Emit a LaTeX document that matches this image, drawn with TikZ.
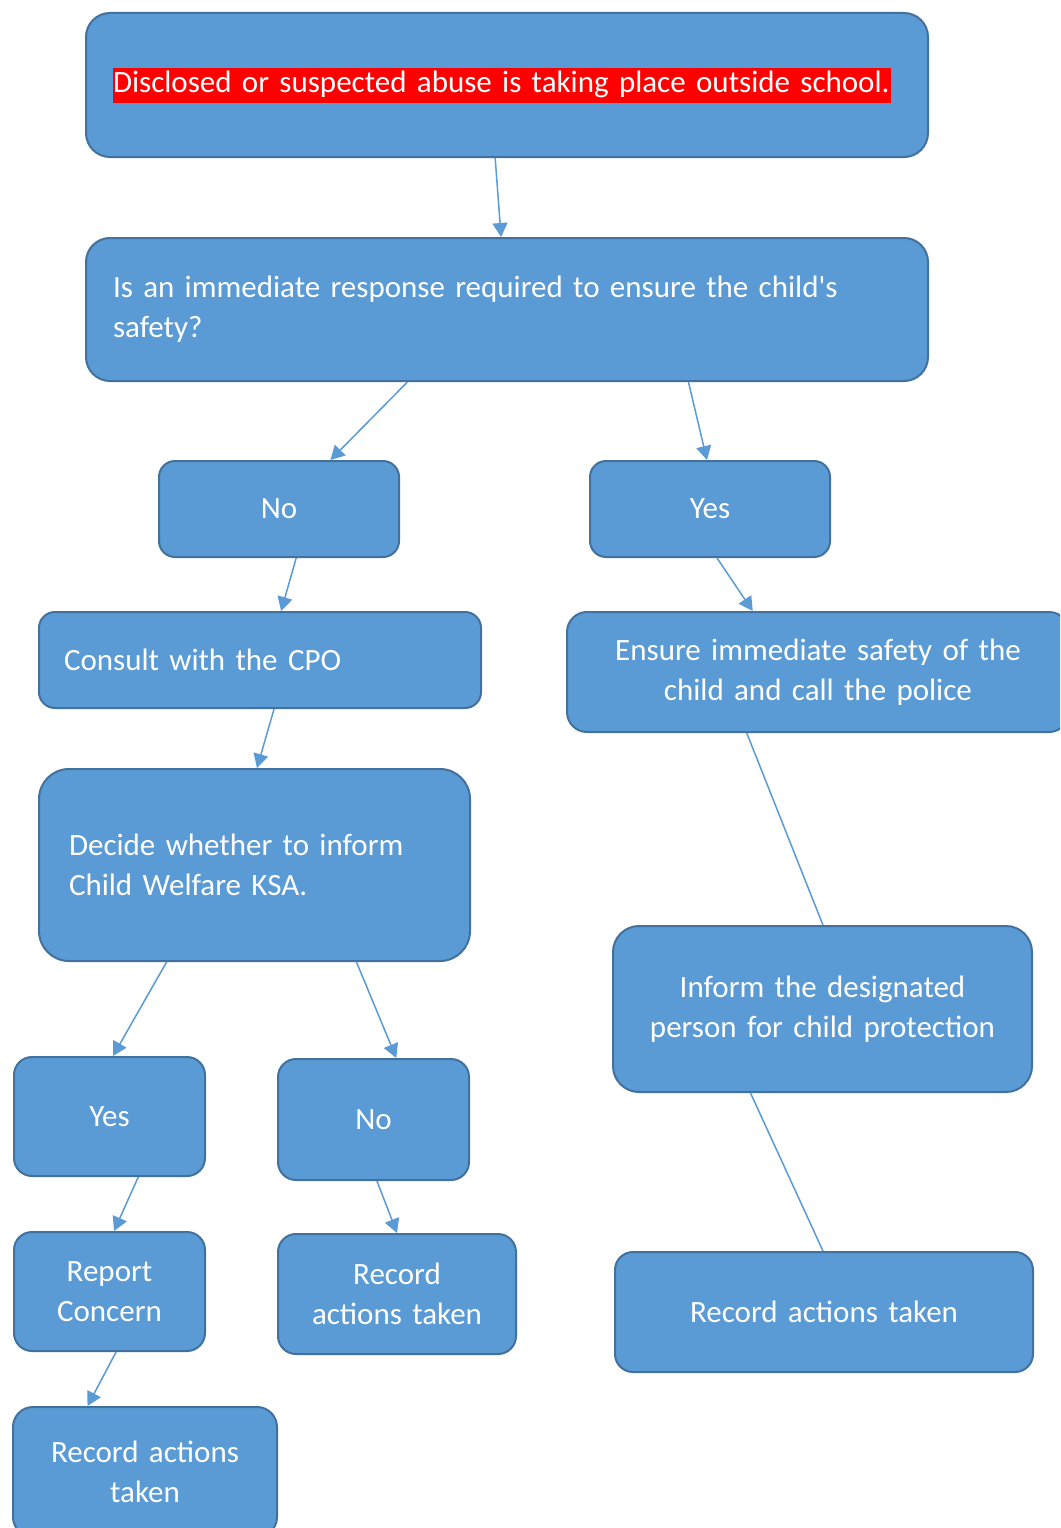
\documentclass[tikz,border=0pt]{standalone}
\usepackage{fontspec}
\setmainfont{Carlito}[Ligatures=TeXOff]
\usetikzlibrary{arrows.meta,calc}
\definecolor{boxfill}{HTML}{5B9BD5}
\definecolor{boxline}{HTML}{41719C}
\tikzset{
  box/.style={draw=boxline, line width=2pt, fill=boxfill, text=white, anchor=north west,
    inner sep=0pt, font=\fontsize{31}{40}\selectfont},
  conn/.style={draw=boxfill, line width=1.5pt, -{Triangle[length=14pt,width=15pt]}},
  plainconn/.style={draw=boxfill, line width=1.5pt},
}
\begin{document}
\begin{tikzpicture}[x=1pt,y=-1pt]
\useasboundingbox (0,0) rectangle (1060,1528);
\fill[white] (0,0) rectangle (1060,1528);
\clip (0,0) rectangle (1060,1528);

\node[box, minimum width=842pt, minimum height=144pt, rounded corners=24pt,
  inner xsep=27pt, text width=788pt, align=left] (top) at (85,12)
  {\setlength\fboxsep{0pt}\colorbox{red}{\rule[-10pt]{0pt}{35pt}Disclosed or suspected abuse is taking place outside school.\hspace{1pt}}};

\node[box, minimum width=842pt, minimum height=143pt, rounded corners=24pt,
  inner xsep=27pt, text width=788pt, align=left] (q) at (85,237)
  {Is an immediate response required to ensure the child's\\safety?};

\node[box, minimum width=240pt, minimum height=96pt, rounded corners=16pt,
  text width=220pt, align=center] (no1) at (158,460) {No};
\node[box, minimum width=240pt, minimum height=96pt, rounded corners=16pt,
  text width=220pt, align=center] (yes1) at (589,460) {Yes};

\node[box, minimum width=442pt, minimum height=96pt, rounded corners=16pt,
  inner xsep=25pt, text width=392pt, align=left] (cpo) at (38,611) {Consult with the CPO};

\node[box, minimum width=502pt, minimum height=120pt, rounded corners=20pt,
  text width=480pt, align=center] (safe) at (566,611)
  {Ensure immediate safety of the\\child and call the police};

\node[box, minimum width=431pt, minimum height=192pt, rounded corners=30pt,
  inner xsep=30pt, text width=371pt, align=left] (decide) at (38,768)
  {Decide whether to inform\\Child Welfare KSA.};

\node[box, minimum width=419pt, minimum height=166pt, rounded corners=26pt,
  text width=400pt, align=center] (inform) at (612,925)
  {Inform the designated\\person for child protection};

\node[box, minimum width=191pt, minimum height=119pt, rounded corners=18pt,
  text width=170pt, align=center] (yes2) at (13,1056) {Yes};
\node[box, minimum width=191pt, minimum height=121pt, rounded corners=18pt,
  text width=170pt, align=center] (no2) at (277,1058) {No};

\node[box, minimum width=191pt, minimum height=119pt, rounded corners=18pt,
  text width=170pt, align=center] (report) at (13,1231) {Report\\Concern};
\node[box, minimum width=238pt, minimum height=120pt, rounded corners=18pt,
  text width=220pt, align=center] (rec2) at (277,1233) {Record\\actions taken};
\node[box, minimum width=418pt, minimum height=120pt, rounded corners=18pt,
  text width=400pt, align=center] (rec3) at (614,1251) {Record actions taken};
\node[box, minimum width=264pt, minimum height=130pt, rounded corners=20pt,
  text width=240pt, align=center] (rec4) at (12,1406) {Record actions\\taken};

\draw[conn] ($(top.south west)!0.486!(top.south east)$) -- ($(q.north west)!0.493!(q.north east)$);
\draw[conn] ($(q.south west)!0.382!(q.south east)$) -- ($(no1.north west)!0.7125!(no1.north east)$);
\draw[conn] ($(q.south west)!0.715!(q.south east)$) -- ($(yes1.north west)!0.4875!(yes1.north east)$);
\draw[conn] ($(no1.south west)!0.571!(no1.south east)$) -- ($(cpo.north west)!0.5475!(cpo.north east)$);
\draw[conn] ($(yes1.south west)!0.529!(yes1.south east)$) -- ($(safe.north west)!0.3705!(safe.north east)$);
\draw[conn] ($(cpo.south west)!0.5317!(cpo.south east)$) -- ($(decide.north west)!0.5058!(decide.north east)$);
\draw[plainconn] ($(safe.south west)!0.3586!(safe.south east)$) -- ($(inform.north west)!0.501!(inform.north east)$);
\draw[conn] ($(decide.south west)!0.297!(decide.south east)$) -- ($(yes2.north west)!0.518!(yes2.north east)$);
\draw[conn] ($(decide.south west)!0.7355!(decide.south east)$) -- ($(no2.north west)!0.618!(no2.north east)$);
\draw[conn] ($(yes2.south west)!0.649!(yes2.south east)$) -- ($(report.north west)!0.5236!(report.north east)$);
\draw[conn] ($(no2.south west)!0.518!(no2.south east)$) -- ($(rec2.north west)!0.5!(rec2.north east)$);
\draw[conn] ($(report.south west)!0.534!(report.south east)$) -- ($(rec4.north west)!0.284!(rec4.north east)$);
\draw[plainconn] ($(inform.south west)!0.329!(inform.south east)$) -- ($(rec3.north west)!0.4976!(rec3.north east)$);
\end{tikzpicture}
\end{document}
